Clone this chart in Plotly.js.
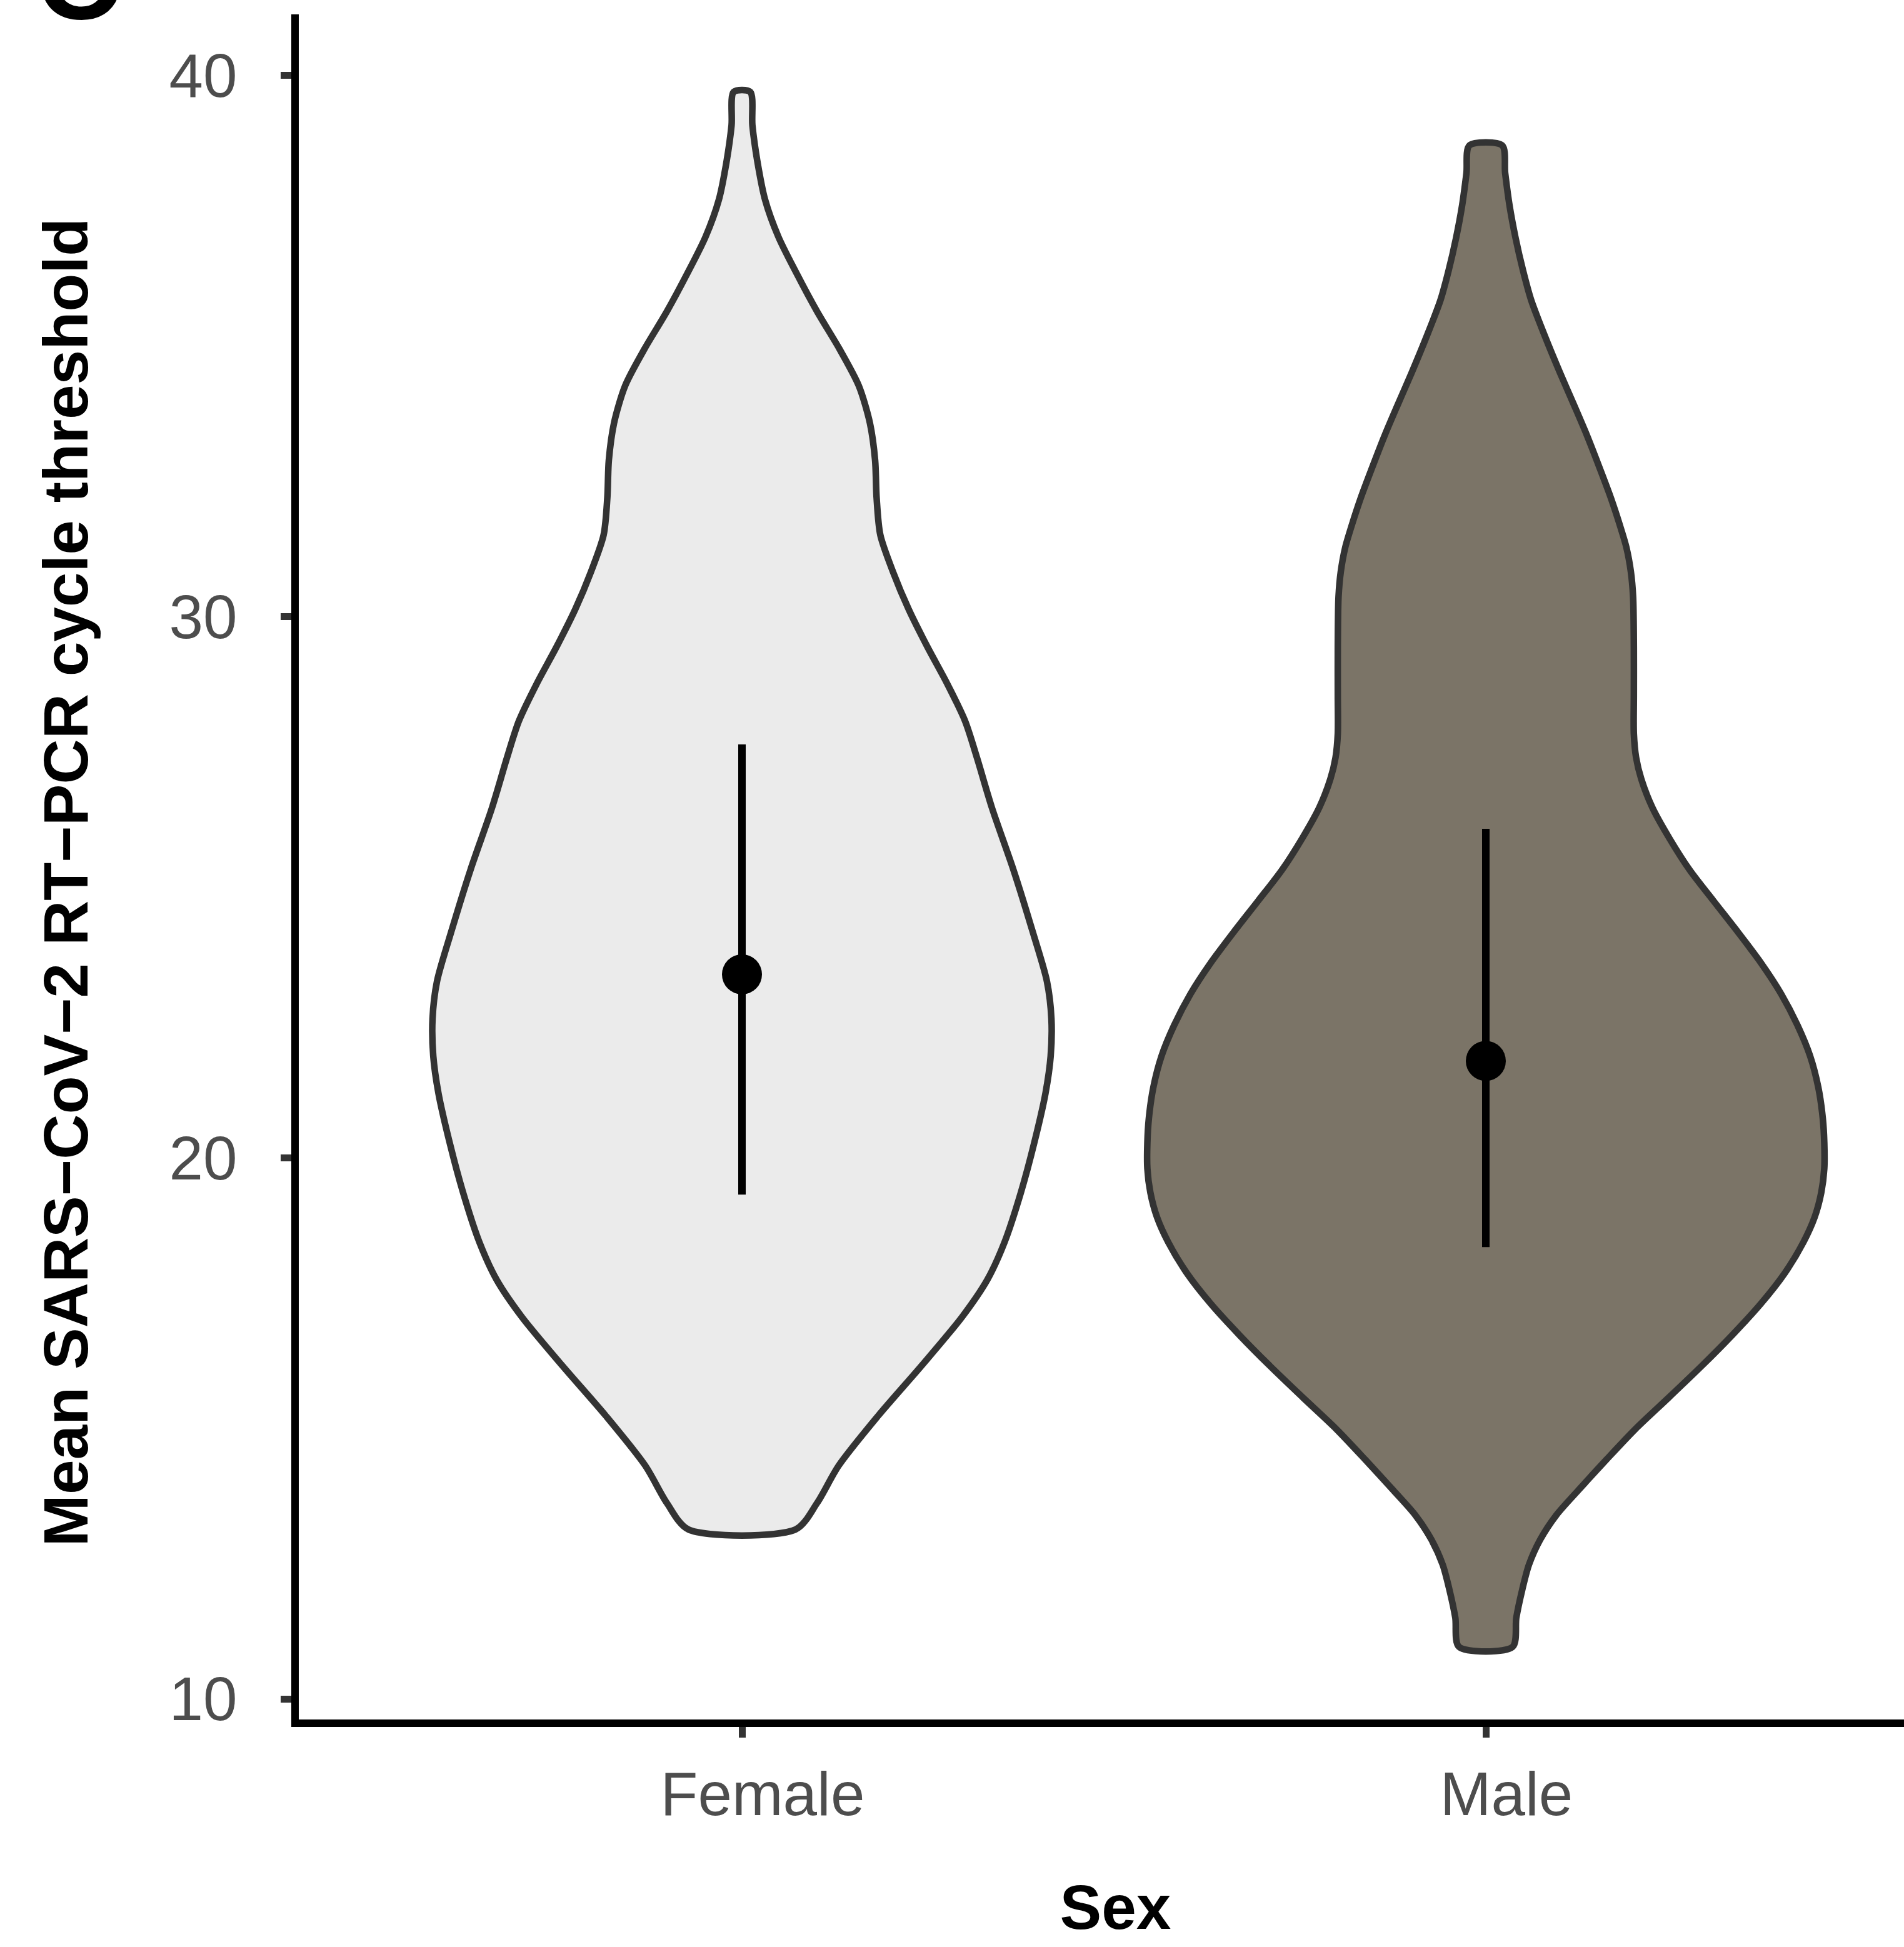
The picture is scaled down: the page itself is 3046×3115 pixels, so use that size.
<!DOCTYPE html>
<html>
<head>
<meta charset="utf-8">
<script src="https://cdn.plot.ly/plotly-3.0.1.min.js"></script>
<style>
  html, body { margin: 0; padding: 0; overflow: hidden; background: #ffffff; }
</style>
</head>
<body>
<div id="chart"></div>
<script>
// Groups on the x axis
const categories = ['Female', 'Male'];

// Violin outlines: Ct value (top to bottom) and density half-width (x units)
const femaleCt = [39.70, 39.08, 38.39, 37.71, 37.02, 36.33, 35.64, 34.95, 34.27, 33.58,
                  32.89, 32.20, 31.51, 30.83, 30.14, 29.45, 28.76, 28.07, 27.39, 26.47,
                  25.32, 24.17, 23.26, 22.57, 21.88, 21.19, 20.28, 19.36, 18.44, 17.75,
                  17.06, 16.15, 15.23, 14.31, 13.62, 13.13];
const femaleHalfWidth = [0.011, 0.014, 0.021, 0.031, 0.049, 0.074, 0.101, 0.131, 0.157, 0.172,
                         0.179, 0.181, 0.186, 0.203, 0.224, 0.249, 0.276, 0.300, 0.316, 0.336,
                         0.365, 0.391, 0.410, 0.416, 0.415, 0.408, 0.393, 0.375, 0.353, 0.330,
                         0.296, 0.241, 0.183, 0.130, 0.101, 0.072];

const maleCt = [38.71, 38.20, 37.59, 37.00, 36.40, 35.85, 35.20, 34.50, 33.90, 33.35,
                32.75, 32.20, 31.70, 31.28, 30.83, 30.37, 29.45, 28.53, 27.84, 27.40,
                27.00, 26.47, 25.90, 25.32, 24.75, 24.17, 23.60, 23.03, 22.45, 21.88,
                21.30, 20.73, 20.28, 19.80, 19.36, 18.90, 18.44, 17.87, 17.29, 16.72,
                16.15, 15.57, 15.00, 14.42, 13.85, 13.40, 12.94, 12.48, 12.02, 11.50,
                10.96];
const maleHalfWidth = [0.022, 0.026, 0.032, 0.040, 0.050, 0.061, 0.079, 0.100, 0.119, 0.136,
                       0.153, 0.168, 0.180, 0.189, 0.195, 0.198, 0.199, 0.199, 0.199, 0.202,
                       0.209, 0.224, 0.247, 0.274, 0.306, 0.339, 0.370, 0.397, 0.419, 0.436,
                       0.447, 0.453, 0.455, 0.455, 0.451, 0.442, 0.427, 0.402, 0.369, 0.331,
                       0.290, 0.246, 0.202, 0.162, 0.124, 0.095, 0.073, 0.058, 0.049, 0.041,
                       0.036];

// Point estimate and interval per group
const meanCt  = [23.39, 21.79];
const lowerCt = [19.32, 18.35];
const upperCt = [27.64, 26.08];

const yTickVals = [10, 20, 30, 40];

const FONT = 'Liberation Sans, Arial, Helvetica, sans-serif';

// Closed outline around a category position, mirrored left/right
function violinPath(center, ys, hws) {
  const x = [], y = [];
  for (let i = ys.length - 1; i >= 0; i--) { x.push(center - hws[i]); y.push(ys[i]); }
  for (let i = 0; i < ys.length; i++)      { x.push(center + hws[i]); y.push(ys[i]); }
  x.push(center - hws[ys.length - 1]); y.push(ys[ys.length - 1]);
  return { x, y };
}

const fem = violinPath(1, femaleCt, femaleHalfWidth);
const mal = violinPath(2, maleCt, maleHalfWidth);

const violinLine = { color: '#333333', width: 10.5, shape: 'spline', smoothing: 0.8 };

const traces = [
  { type: 'scatter', mode: 'lines', x: fem.x, y: fem.y, fill: 'toself',
    fillcolor: '#EBEBEB', line: violinLine, hoverinfo: 'skip' },
  { type: 'scatter', mode: 'lines', x: mal.x, y: mal.y, fill: 'toself',
    fillcolor: '#7B7467', line: violinLine, hoverinfo: 'skip' },
  { type: 'scatter', mode: 'markers', x: [1, 2], y: meanCt,
    marker: { size: 64, color: '#000000' },
    error_y: { type: 'data', symmetric: false,
               array: upperCt.map((u, i) => u - meanCt[i]),
               arrayminus: meanCt.map((m, i) => m - lowerCt[i]),
               thickness: 12, width: 0, color: '#000000' } }
];

const layout = {
  width: 3151, height: 3115,
  margin: { l: 478, r: 60, t: 23, b: 364 },
  paper_bgcolor: '#ffffff', plot_bgcolor: '#ffffff',
  showlegend: false, hovermode: false,
  xaxis: {
    range: [0.4042, 2.6], tickvals: [1, 2], ticktext: categories,
    showgrid: false, zeroline: false,
    showline: true, linecolor: '#000000', linewidth: 12,
    ticks: 'outside', ticklen: 17, tickwidth: 11, tickcolor: '#333333',
    tickfont: { family: FONT, size: 98, color: '#4D4D4D' },
    ticklabelshift: 33, ticklabelstandoff: 6,
    title: { text: 'Sex', standoff: 97,
             font: { family: FONT, size: 100, color: '#000000', weight: 'bold' } }
  },
  yaxis: {
    range: [9.619, 41.132], tickvals: yTickVals,
    showgrid: false, zeroline: false,
    showline: true, linecolor: '#000000', linewidth: 12,
    ticks: 'outside', ticklen: 17, tickwidth: 11, tickcolor: '#333333',
    tickfont: { family: FONT, size: 98, color: '#4D4D4D' },
    ticklabelstandoff: 50
  },
  annotations: [
    // y-axis title
    { text: 'Mean SARS\u2212CoV\u22122 RT\u2212PCR cycle threshold', textangle: -90,
      xref: 'paper', yref: 'paper', x: -0.1428, y: 0.4910,
      xanchor: 'center', yanchor: 'middle', showarrow: false,
      font: { family: FONT, size: 100, color: '#000000', weight: 'bold' } },
    // panel letter
    { text: 'C', xref: 'paper', yref: 'paper', x: -0.1618, y: 0.982,
      xanchor: 'left', yanchor: 'bottom', showarrow: false,
      font: { family: FONT, size: 190, color: '#000000', weight: 'bold' } }
  ]
};

Plotly.newPlot('chart', traces, layout, { displayModeBar: false, staticPlot: true });
</script>
</body>
</html>
